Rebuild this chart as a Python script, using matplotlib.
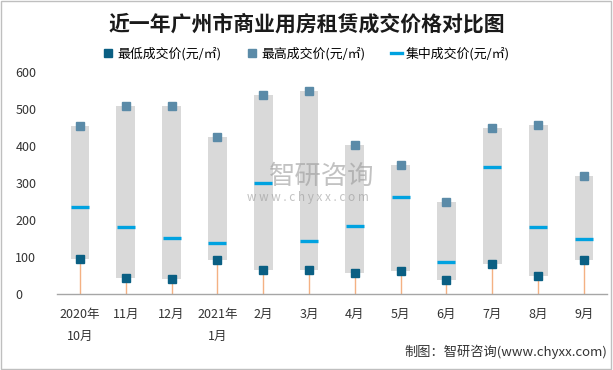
import matplotlib
matplotlib.use("Agg")
import matplotlib.pyplot as plt
from matplotlib.lines import Line2D
from matplotlib.patches import Rectangle
import numpy as np

plt.rcParams['font.family'] = ['Noto Sans CJK SC', 'DejaVu Sans']

TITLE = "近一年广州市商业用房租赁成交价格对比图"
MONTHS = ["2020年\n10月", "11月", "12月", "2021年\n1月", "2月", "3月",
          "4月", "5月", "6月", "7月", "8月", "9月"]
LOW = [95, 44, 40, 93, 66, 64, 56, 61, 39, 80, 50, 91]
HIGH = [453, 509, 507, 423, 537, 550, 404, 350, 250, 450, 458, 320]
MID = [236, 181, 152, 138, 300, 143, 184, 263, 87, 344, 181, 149]
LEGEND_LABELS = ["最低成交价(元/㎡)", "最高成交价(元/㎡)", "集中成交价(元/㎡)"]
SOURCE = "制图：智研咨询(www.chyxx.com)"

LOW_COLOR = "#0a5f83"
HIGH_COLOR = "#5b8ba8"
MID_COLOR = "#00a2e0"
BAR_COLOR = "#d9d9d9"
DROP_COLOR = "#f4b183"


def main() -> None:
    fig = plt.figure(figsize=(6.13, 3.70), dpi=100)
    ax = fig.add_axes([0.093, 0.2054, 0.897, 0.600])
    x = np.arange(len(MONTHS))
    low = np.array(LOW)
    high = np.array(HIGH)

    # floating range bars
    ax.bar(x, high - low, bottom=low, width=0.41, color=BAR_COLOR, zorder=1)
    # drop lines from the axis to the low value
    ax.vlines(x, 0, low, color=DROP_COLOR, lw=1.0, zorder=2)
    ax.plot(x, MID, ls="none", marker="_", ms=12.5, mew=2.4, color=MID_COLOR, zorder=3)
    ax.plot(x, LOW, ls="none", marker="s", ms=5.2, color=LOW_COLOR, zorder=4)
    ax.plot(x, HIGH, ls="none", marker="s", ms=5.2, color=HIGH_COLOR, zorder=4)

    ax.set_xlim(-0.5, len(MONTHS) - 0.5)
    ax.set_ylim(0, 600)
    ax.set_yticks(range(0, 601, 100))
    ax.set_xticks(x)
    ax.set_xticklabels(MONTHS, linespacing=1.9, va="top")
    ax.tick_params(axis="both", length=0, labelsize=9, colors="#333333")
    ax.tick_params(axis="x", pad=10)
    ax.tick_params(axis="y", pad=30)
    for lab in ax.get_yticklabels():
        lab.set_horizontalalignment("left")
    for side in ("top", "right", "left"):
        ax.spines[side].set_visible(False)
    ax.spines["bottom"].set_color("#a6a6a6")
    ax.spines["bottom"].set_linewidth(1.0)

    fig.text(0.5, 0.935, TITLE, ha="center", va="center", fontsize=15,
             fontweight="bold", color="#1a1a1a")

    handles = [
        Line2D([], [], ls="none", marker="s", ms=5.2, color=LOW_COLOR),
        Line2D([], [], ls="none", marker="s", ms=5.2, color=HIGH_COLOR),
        Line2D([], [], color=MID_COLOR, lw=2.4),
    ]
    fig.legend(handles, LEGEND_LABELS, loc="center", bbox_to_anchor=(0.5, 0.855),
               ncol=3, frameon=False, fontsize=9.3, handlelength=0.8,
               handletextpad=0.3, columnspacing=2.0)

    # watermark
    fig.text(0.525, 0.522, "智研咨询", ha="center", va="center", fontsize=19,
             color="#9a9a9a", alpha=0.6)
    fig.text(0.502, 0.465, "w w w . c h y x x . c o m", ha="center", va="center",
             fontsize=8.5, color="#9a9a9a", alpha=0.6)

    fig.text(0.99, 0.05, SOURCE, ha="right", va="center", fontsize=9.5, color="#333333")

    fig.patches.append(Rectangle((0.002, 0.003), 0.994, 0.994, transform=fig.transFigure,
                                 fill=False, ec="#bfbfbf", lw=1.0))
    fig.savefig("out.png", dpi=100)


if __name__ == "__main__":
    main()
